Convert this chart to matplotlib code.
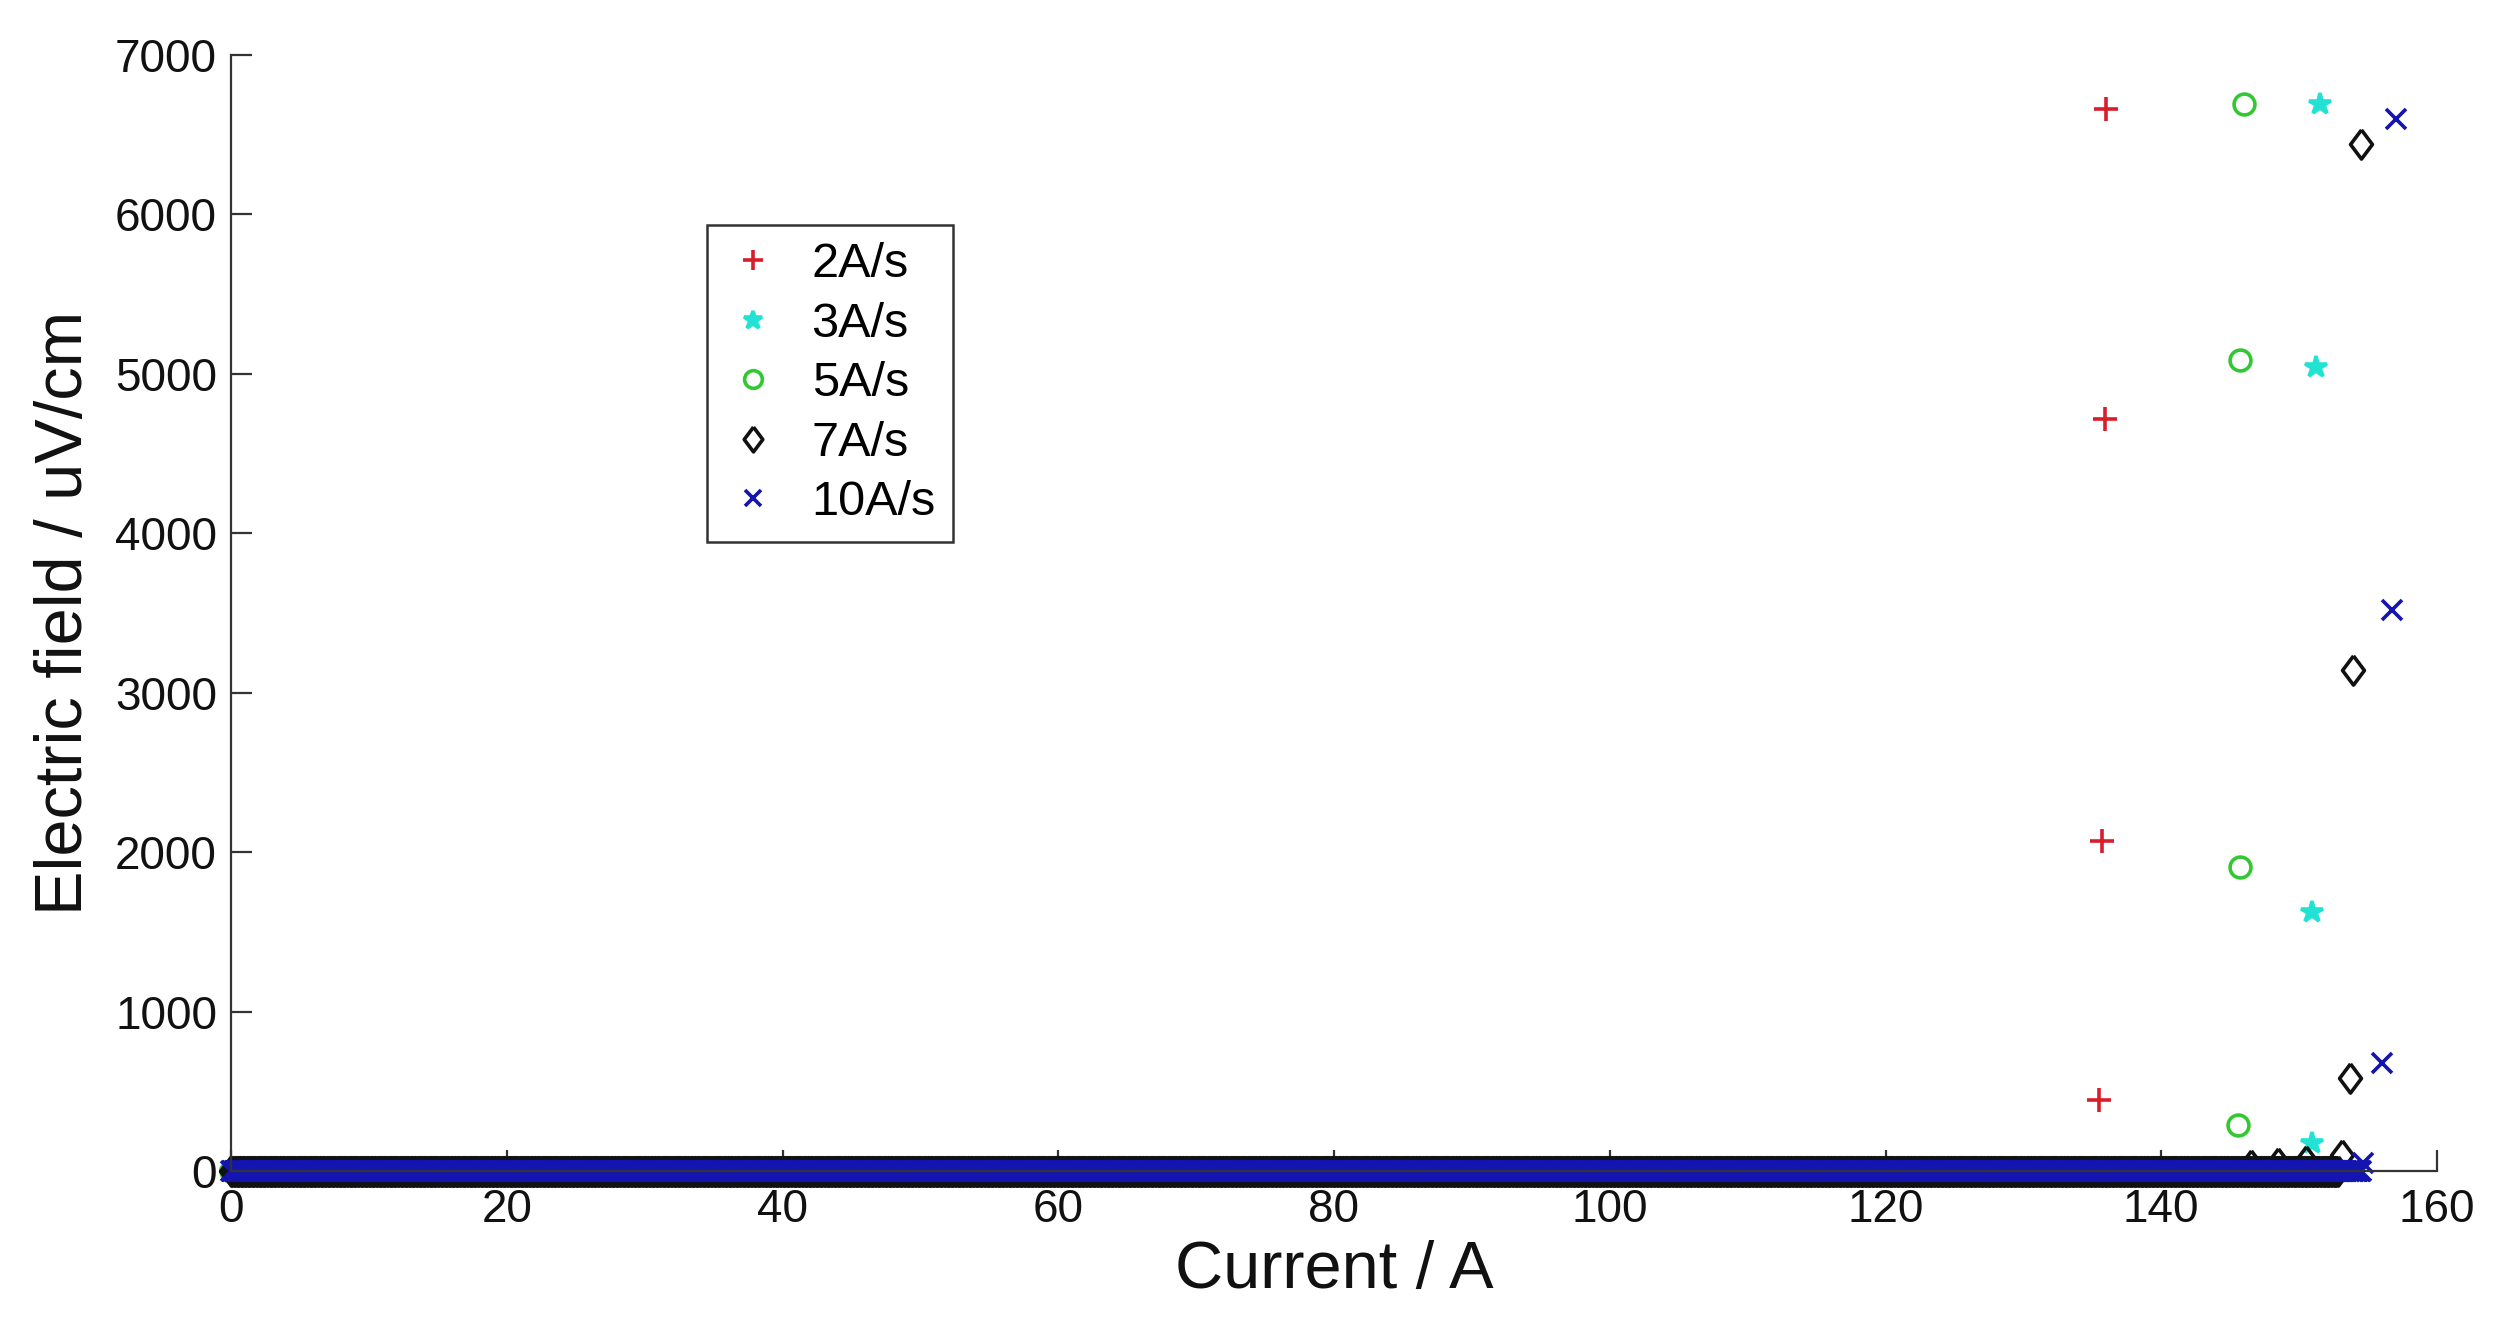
import numpy as np
import matplotlib
matplotlib.use('Agg')
import matplotlib.pyplot as plt
from matplotlib import rc

rc('font', **{'family': 'sans-serif', 'sans-serif': ['Liberation Sans', 'DejaVu Sans']})

# ramp rates shown in the legend (plot order)
labels = ['2A/s', '3A/s', '5A/s', '7A/s', '10A/s']

# last current of the flat (E ~ 0) part of each sweep, A
baseline_end = [135.0, 150.5, 145.3, 152.8, 154.5]
baseline_step = 0.1

# points after the transition: current / A and electric field / uV/cm
quench_I = [
    [135.5, 135.7, 135.9, 136.0],
    [150.9, 150.9, 151.2, 151.5],
    [145.6, 145.7, 145.7, 146.0],
    [146.5, 148.5, 150.5, 153.1, 153.7, 153.9, 154.5],
    [154.6, 156.0, 156.7, 157.0],
]
quench_E = [
    [445, 2069, 4719, 6661],
    [174, 1626, 5043, 6692],
    [288, 1904, 5089, 6692],
    [40, 50, 60, 100, 581, 3145, 6441],
    [50, 675, 3517, 6598],
]

diamond = [(0, 1), (0.75, 0), (0, -1), (-0.75, 0), (0, 1)]
markers = ['+', '*', 'o', diamond, 'x']
colors = ['#d81e2c', '#22e3d3', '#33c833', '#111111', '#1414b0']
msizes = [17, 16, 15, 21, 14]


def scatter_plot():
    fig = plt.figure(figsize=(25.19, 13.2), dpi=100)
    ax = fig.add_axes([231 / 2519, 1 - 1171 / 1320, 2206 / 2519, 1116 / 1320])

    for i in range(len(labels)):
        I0 = np.arange(0, baseline_end[i] + 1e-9, baseline_step)
        x = np.concatenate([I0, quench_I[i]])
        y = np.concatenate([np.zeros(I0.size), quench_E[i]])
        filled = markers[i] == '*'
        ax.plot(x, y, linestyle='none', marker=markers[i], markersize=msizes[i],
                markeredgecolor=colors[i],
                markerfacecolor=colors[i] if filled else 'none',
                markeredgewidth=2.6, label=labels[i], clip_on=False)

    ax.set_xlim(0, 160)
    ax.set_ylim(0, 7000)
    ax.set_xticks(np.arange(0, 161, 20))
    ax.set_yticks(np.arange(0, 7001, 1000))

    for s in ['top', 'right']:
        ax.spines[s].set_visible(False)
    for s in ['left', 'bottom']:
        ax.spines[s].set_color('#333333')
        ax.spines[s].set_linewidth(1.6)

    ax.tick_params(direction='in', length=15, width=1.6, color='#333333',
                   labelsize=33, labelcolor='#111111')
    ax.tick_params(axis='x', pad=12)
    ax.tick_params(axis='y', pad=10)

    ax.set_xlabel('Current / A', fontsize=48, color='#111111', labelpad=6)
    ax.set_ylabel('Electric field / uV/cm', fontsize=48, color='#111111', labelpad=14)

    leg = ax.legend(loc='upper left', bbox_to_anchor=(0.2158, 0.8477),
                    borderaxespad=0, fontsize=35, frameon=True, fancybox=False,
                    edgecolor='#333333', framealpha=1, handlelength=1.2,
                    handletextpad=0.6, labelspacing=0.3, borderpad=0.35,
                    markerscale=0.85)
    leg.get_frame().set_linewidth(1.8)

    fig.savefig('out.png', dpi=100)


if __name__ == '__main__':
    scatter_plot()
